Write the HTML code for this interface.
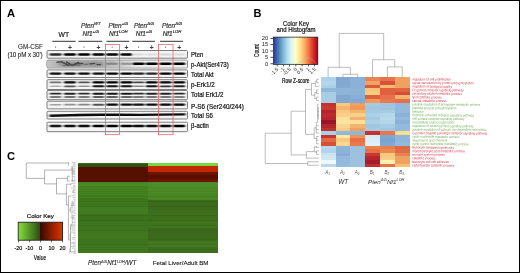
<!DOCTYPE html><html><head><meta charset="utf-8"><style>
html,body{margin:0;padding:0;background:#fff;}body{width:520px;height:273px;overflow:hidden;}
svg{display:block;font-family:"Liberation Sans",sans-serif;will-change:transform;filter:blur(0.35px);}
</style></head><body>
<svg width="520" height="273" viewBox="0 0 520 273">
<defs>
<filter id="bl" x="-20%" y="-100%" width="140%" height="300%"><feGaussianBlur stdDeviation="0.8 0.4"/></filter>
<filter id="bl2" x="-20%" y="-100%" width="140%" height="300%"><feGaussianBlur stdDeviation="1.5 1.0"/></filter>
<linearGradient id="rdylbu" x1="0" x2="1" y1="0" y2="0">
<stop offset="0.000" stop-color="#313695"/>
<stop offset="0.100" stop-color="#4575b4"/>
<stop offset="0.200" stop-color="#74add1"/>
<stop offset="0.300" stop-color="#abd9e9"/>
<stop offset="0.400" stop-color="#e0f3f8"/>
<stop offset="0.500" stop-color="#ffffbf"/>
<stop offset="0.600" stop-color="#fee090"/>
<stop offset="0.700" stop-color="#fdae61"/>
<stop offset="0.800" stop-color="#f46d43"/>
<stop offset="0.900" stop-color="#d73027"/>
<stop offset="1.000" stop-color="#a50026"/>
</linearGradient>
<linearGradient id="gr" x1="0" x2="1" y1="0" y2="0">
<stop offset="0" stop-color="#86e040"/><stop offset="0.5" stop-color="#2a4a10"/><stop offset="0.5" stop-color="#3a0800"/><stop offset="1" stop-color="#e03400"/>
</linearGradient>
<linearGradient id="pakt" x1="0" x2="1" y1="0" y2="0"><stop offset="0" stop-color="#c2c2c2"/><stop offset="0.08" stop-color="#b4b4b4"/><stop offset="0.35" stop-color="#b0b0b0"/><stop offset="0.46" stop-color="#bebebe"/><stop offset="0.54" stop-color="#cdcdcd"/><stop offset="0.6" stop-color="#dedede"/><stop offset="0.66" stop-color="#ebebeb"/><stop offset="1" stop-color="#eeeeee"/></linearGradient>
<filter id="bl3" x="-20%" y="-100%" width="140%" height="300%"><feGaussianBlur stdDeviation="0.7 0.5"/></filter>
</defs>
<rect x="0" y="0" width="520" height="273" fill="#fff"/>
<text x="7" y="16.6" font-size="11.2" font-weight="bold">A</text>
<text x="63.8" y="37.1" font-size="6.8" text-anchor="middle" fill="#222" stroke="#222" stroke-width="0.2">WT</text>
<text x="90.8" y="28.0" font-size="6.4" font-style="italic" text-anchor="middle" fill="#333" stroke="#333" stroke-width="0.2">Pten<tspan font-size="4.2" dy="-2.8">WT</tspan></text>
<text x="90.8" y="35.7" font-size="6.4" font-style="italic" text-anchor="middle" fill="#333" stroke="#333" stroke-width="0.2">Nf1<tspan font-size="4.2" dy="-2.8">+/Δ</tspan></text>
<text x="118.3" y="28.0" font-size="6.4" font-style="italic" text-anchor="middle" fill="#333" stroke="#333" stroke-width="0.2">Pten<tspan font-size="4.2" dy="-2.8">+/Δ</tspan></text>
<text x="118.3" y="35.7" font-size="6.4" font-style="italic" text-anchor="middle" fill="#333" stroke="#333" stroke-width="0.2">Nf1<tspan font-size="4.2" dy="-2.8">LOH</tspan></text>
<text x="144" y="28.0" font-size="6.4" font-style="italic" text-anchor="middle" fill="#333" stroke="#333" stroke-width="0.2">Pten<tspan font-size="4.2" dy="-2.8">Δ/Δ</tspan></text>
<text x="144" y="35.7" font-size="6.4" font-style="italic" text-anchor="middle" fill="#333" stroke="#333" stroke-width="0.2">Nf1<tspan font-size="4.2" dy="-2.8">+/Δ</tspan></text>
<text x="172" y="28.0" font-size="6.4" font-style="italic" text-anchor="middle" fill="#333" stroke="#333" stroke-width="0.2">Pten<tspan font-size="4.2" dy="-2.8">Δ/Δ</tspan></text>
<text x="172" y="35.7" font-size="6.4" font-style="italic" text-anchor="middle" fill="#333" stroke="#333" stroke-width="0.2">Nf1<tspan font-size="4.2" dy="-2.8">LOH</tspan></text>
<rect x="52.3" y="40.8" width="23.4" height="1.0" fill="#333"/>
<rect x="78.5" y="40.8" width="23.8" height="1.0" fill="#333"/>
<rect x="106.5" y="40.8" width="22.7" height="1.0" fill="#333"/>
<rect x="132.3" y="40.8" width="22.7" height="1.0" fill="#333"/>
<rect x="160" y="40.8" width="23.1" height="1.0" fill="#333"/>
<text x="42.9" y="48.9" font-size="6.3" text-anchor="end" fill="#1c1c1c" stroke="#1c1c1c" stroke-width="0.08">GM-CSF</text>
<text x="42.6" y="56.6" font-size="6.3" text-anchor="end" fill="#1c1c1c" stroke="#1c1c1c" stroke-width="0.08" textLength="35.2" lengthAdjust="spacing">(10 pM x 30')</text>
<rect x="55.1" y="46.5" width="1.0" height="1.2" fill="#666"/>
<text x="69.9" y="49.5" font-size="6.8" font-weight="bold" text-anchor="middle" fill="#3a3a3a">+</text>
<rect x="83.5" y="46.5" width="1.0" height="1.2" fill="#666"/>
<text x="98.5" y="49.5" font-size="6.8" font-weight="bold" text-anchor="middle" fill="#3a3a3a">+</text>
<rect x="111.7" y="46.5" width="1.0" height="1.2" fill="#666"/>
<text x="126.4" y="49.5" font-size="6.8" font-weight="bold" text-anchor="middle" fill="#3a3a3a">+</text>
<rect x="138.1" y="46.5" width="1.0" height="1.2" fill="#666"/>
<text x="151.8" y="49.5" font-size="6.8" font-weight="bold" text-anchor="middle" fill="#3a3a3a">+</text>
<rect x="165.1" y="46.5" width="1.0" height="1.2" fill="#666"/>
<text x="179.2" y="49.5" font-size="6.8" font-weight="bold" text-anchor="middle" fill="#3a3a3a">+</text>
<rect x="47.0" y="50.5" width="140.5" height="7.7" rx="1" fill="#f4f4f4" stroke="#6e6e6e" stroke-width="0.9"/>
<g filter="url(#bl)">
<rect x="49.5" y="53.26" width="12.2" height="2.47" rx="1.5" fill="rgb(44,44,44)"/>
<rect x="63.8" y="53.14" width="12.2" height="2.73" rx="1.5" fill="rgb(2,2,2)"/>
<rect x="77.9" y="53.15" width="12.2" height="2.71" rx="1.5" fill="rgb(4,4,4)"/>
<rect x="92.4" y="53.14" width="12.2" height="2.73" rx="1.5" fill="rgb(2,2,2)"/>
<rect x="106.1" y="53.14" width="12.2" height="2.73" rx="1.5" fill="rgb(2,2,2)"/>
<rect x="120.3" y="53.14" width="12.2" height="2.73" rx="1.5" fill="rgb(2,2,2)"/>
<rect x="132.5" y="53.61" width="12.2" height="1.78" rx="1.5" fill="rgb(219,219,219)"/>
<rect x="145.7" y="53.61" width="12.2" height="1.78" rx="1.5" fill="rgb(219,219,219)"/>
<rect x="159.5" y="53.60" width="12.2" height="1.80" rx="1.5" fill="rgb(213,213,213)"/>
<rect x="173.1" y="53.61" width="12.2" height="1.78" rx="1.5" fill="rgb(219,219,219)"/>
</g>
<text x="191" y="56.6" font-size="6.5" fill="#111" textLength="12.3" lengthAdjust="spacingAndGlyphs" stroke="#111" stroke-width="0.2">Pten</text>
<rect x="47.0" y="60.2" width="140.5" height="7.7" rx="1" fill="#f4f4f4" stroke="#6e6e6e" stroke-width="0.9"/>
<rect x="47.4" y="60.6" width="139.7" height="6.9" fill="url(#pakt)"/>
<g filter="url(#bl2)" fill="#777" opacity="0.55"><rect x="58" y="62" width="46" height="4" rx="2"/></g>
<g filter="url(#bl3)" stroke="#2a2a2a" stroke-width="1.6" fill="none" stroke-linecap="round" opacity="0.7">
<polyline points="57,62.3 61.7,61.8 68.5,65.3"/>
<polyline points="66.5,61.9 72,65.4 78.5,62.6"/>
<polyline points="63,65.6 80,65.7" stroke-width="1.0" opacity="0.6"/>
<polyline points="76,63.8 82.5,63.5" stroke-width="1.5"/>
<polyline points="90,63.8 94.8,63.4" stroke-width="1.3"/>
<polyline points="97,64.6 100.5,64.6" stroke-width="1.4"/>
<polyline points="84,64.6 88,64.4" stroke-width="0.9" opacity="0.5"/>
<polyline points="107,63.8 111,63.4 116,63.6" stroke-width="1.1" opacity="0.7"/>
<polyline points="121,64 130,64.2" stroke-width="0.8" opacity="0.35"/>
</g>
<g filter="url(#bl)">
<rect x="106.1" y="62.80" width="12.2" height="2.00" rx="1.5" fill="rgb(134,134,134)"/>
<rect x="120.3" y="62.83" width="12.2" height="1.95" rx="1.5" fill="rgb(147,147,147)"/>
<rect x="132.5" y="62.50" width="12.2" height="2.59" rx="1.5" fill="rgb(4,4,4)"/>
<rect x="145.7" y="62.50" width="12.2" height="2.59" rx="1.5" fill="rgb(4,4,4)"/>
<rect x="159.5" y="62.49" width="12.2" height="2.61" rx="1.5" fill="rgb(2,2,2)"/>
<rect x="173.1" y="62.49" width="12.2" height="2.62" rx="1.5" fill="rgb(1,1,1)"/>
</g>
<text x="191" y="66.7" font-size="6.5" fill="#111" textLength="37.7" lengthAdjust="spacingAndGlyphs" stroke="#111" stroke-width="0.2">p-Akt(Ser473)</text>
<rect x="47.0" y="69.9" width="140.5" height="7.6" rx="1" fill="#f4f4f4" stroke="#6e6e6e" stroke-width="0.9"/>
<g filter="url(#bl)">
<rect x="49.5" y="72.44" width="12.2" height="2.31" rx="1.5" fill="rgb(11,11,11)"/>
<rect x="63.8" y="72.44" width="12.2" height="2.31" rx="1.5" fill="rgb(11,11,11)"/>
<rect x="77.9" y="72.44" width="12.2" height="2.31" rx="1.5" fill="rgb(11,11,11)"/>
<rect x="92.4" y="72.44" width="12.2" height="2.31" rx="1.5" fill="rgb(11,11,11)"/>
<rect x="106.1" y="72.41" width="12.2" height="2.37" rx="1.5" fill="rgb(2,2,2)"/>
<rect x="120.3" y="72.41" width="12.2" height="2.37" rx="1.5" fill="rgb(2,2,2)"/>
<rect x="132.5" y="72.51" width="12.2" height="2.17" rx="1.5" fill="rgb(38,38,38)"/>
<rect x="145.7" y="72.51" width="12.2" height="2.17" rx="1.5" fill="rgb(38,38,38)"/>
<rect x="159.5" y="72.41" width="12.2" height="2.37" rx="1.5" fill="rgb(2,2,2)"/>
<rect x="173.1" y="72.41" width="12.2" height="2.37" rx="1.5" fill="rgb(2,2,2)"/>
</g>
<text x="191" y="76.5" font-size="6.5" fill="#111" textLength="22.8" lengthAdjust="spacingAndGlyphs" stroke="#111" stroke-width="0.2">Total Akt</text>
<rect x="47.0" y="79.7" width="140.5" height="9.8" rx="1" fill="#f4f4f4" stroke="#6e6e6e" stroke-width="0.9"/>
<g filter="url(#bl)">
<rect x="49.5" y="81.50" width="12.2" height="1.81" rx="1.5" fill="rgb(108,108,108)"/>
<rect x="63.8" y="81.29" width="12.2" height="2.21" rx="1.5" fill="rgb(8,8,8)"/>
<rect x="77.9" y="81.45" width="12.2" height="1.90" rx="1.5" fill="rgb(83,83,83)"/>
<rect x="92.4" y="81.26" width="12.2" height="2.28" rx="1.5" fill="rgb(0,0,0)"/>
<rect x="106.1" y="81.26" width="12.2" height="2.28" rx="1.5" fill="rgb(0,0,0)"/>
<rect x="120.3" y="81.27" width="12.2" height="2.25" rx="1.5" fill="rgb(2,2,2)"/>
<rect x="132.5" y="81.43" width="12.2" height="1.94" rx="1.5" fill="rgb(71,71,71)"/>
<rect x="145.7" y="81.27" width="12.2" height="2.25" rx="1.5" fill="rgb(2,2,2)"/>
<rect x="159.5" y="81.29" width="12.2" height="2.21" rx="1.5" fill="rgb(8,8,8)"/>
<rect x="173.1" y="81.27" width="12.2" height="2.25" rx="1.5" fill="rgb(2,2,2)"/>
</g>
<g filter="url(#bl)">
<rect x="49.5" y="85.59" width="12.2" height="1.43" rx="1.5" fill="rgb(175,175,175)"/>
<rect x="63.8" y="85.45" width="12.2" height="1.70" rx="1.5" fill="rgb(83,83,83)"/>
<rect x="77.9" y="85.55" width="12.2" height="1.50" rx="1.5" fill="rgb(147,147,147)"/>
<rect x="92.4" y="85.34" width="12.2" height="1.93" rx="1.5" fill="rgb(19,19,19)"/>
<rect x="106.1" y="85.34" width="12.2" height="1.93" rx="1.5" fill="rgb(19,19,19)"/>
<rect x="120.3" y="85.34" width="12.2" height="1.93" rx="1.5" fill="rgb(19,19,19)"/>
<rect x="132.5" y="85.53" width="12.2" height="1.54" rx="1.5" fill="rgb(134,134,134)"/>
<rect x="145.7" y="85.34" width="12.2" height="1.93" rx="1.5" fill="rgb(19,19,19)"/>
<rect x="159.5" y="85.39" width="12.2" height="1.81" rx="1.5" fill="rgb(49,49,49)"/>
<rect x="173.1" y="85.36" width="12.2" height="1.87" rx="1.5" fill="rgb(32,32,32)"/>
</g>
<text x="191" y="86.7" font-size="6.5" fill="#111" textLength="23.7" lengthAdjust="spacingAndGlyphs" stroke="#111" stroke-width="0.2">p-Erk1/2</text>
<rect x="47.0" y="90.5" width="140.5" height="9.2" rx="1" fill="#f4f4f4" stroke="#6e6e6e" stroke-width="0.9"/>
<g filter="url(#bl)">
<rect x="49.5" y="92.79" width="12.2" height="1.83" rx="1.5" fill="rgb(44,44,44)"/>
<rect x="63.8" y="92.77" width="12.2" height="1.86" rx="1.5" fill="rgb(36,36,36)"/>
<rect x="77.9" y="92.79" width="12.2" height="1.83" rx="1.5" fill="rgb(44,44,44)"/>
<rect x="92.4" y="92.74" width="12.2" height="1.93" rx="1.5" fill="rgb(19,19,19)"/>
<rect x="106.1" y="92.74" width="12.2" height="1.93" rx="1.5" fill="rgb(19,19,19)"/>
<rect x="120.3" y="92.75" width="12.2" height="1.90" rx="1.5" fill="rgb(25,25,25)"/>
<rect x="132.5" y="92.79" width="12.2" height="1.83" rx="1.5" fill="rgb(44,44,44)"/>
<rect x="145.7" y="92.77" width="12.2" height="1.86" rx="1.5" fill="rgb(36,36,36)"/>
<rect x="159.5" y="92.77" width="12.2" height="1.86" rx="1.5" fill="rgb(36,36,36)"/>
<rect x="173.1" y="92.79" width="12.2" height="1.83" rx="1.5" fill="rgb(44,44,44)"/>
</g>
<g filter="url(#bl)">
<rect x="49.5" y="96.25" width="12.2" height="1.50" rx="1.5" fill="rgb(83,83,83)"/>
<rect x="63.8" y="96.23" width="12.2" height="1.53" rx="1.5" fill="rgb(71,71,71)"/>
<rect x="77.9" y="96.25" width="12.2" height="1.50" rx="1.5" fill="rgb(83,83,83)"/>
<rect x="92.4" y="96.19" width="12.2" height="1.61" rx="1.5" fill="rgb(44,44,44)"/>
<rect x="106.1" y="96.19" width="12.2" height="1.61" rx="1.5" fill="rgb(44,44,44)"/>
<rect x="120.3" y="96.21" width="12.2" height="1.58" rx="1.5" fill="rgb(53,53,53)"/>
<rect x="132.5" y="96.25" width="12.2" height="1.50" rx="1.5" fill="rgb(83,83,83)"/>
<rect x="145.7" y="96.24" width="12.2" height="1.52" rx="1.5" fill="rgb(76,76,76)"/>
<rect x="159.5" y="96.24" width="12.2" height="1.52" rx="1.5" fill="rgb(76,76,76)"/>
<rect x="173.1" y="96.26" width="12.2" height="1.48" rx="1.5" fill="rgb(90,90,90)"/>
</g>
<text x="191" y="97.2" font-size="6.5" fill="#111" textLength="32.3" lengthAdjust="spacingAndGlyphs" stroke="#111" stroke-width="0.2">Total Erk1/2</text>
<rect x="47.0" y="101.2" width="140.5" height="7.7" rx="1" fill="#f4f4f4" stroke="#6e6e6e" stroke-width="0.9"/>
<g filter="url(#bl)">
<rect x="49.5" y="103.88" width="12.2" height="1.64" rx="1.5" fill="rgb(161,161,161)"/>
<rect x="63.8" y="103.86" width="12.2" height="1.68" rx="1.5" fill="rgb(147,147,147)"/>
<rect x="77.9" y="103.84" width="12.2" height="1.72" rx="1.5" fill="rgb(134,134,134)"/>
<rect x="92.4" y="103.75" width="12.2" height="1.90" rx="1.5" fill="rgb(83,83,83)"/>
<rect x="106.1" y="103.59" width="12.2" height="2.21" rx="1.5" fill="rgb(8,8,8)"/>
<rect x="120.3" y="103.61" width="12.2" height="2.18" rx="1.5" fill="rgb(14,14,14)"/>
<rect x="132.5" y="103.62" width="12.2" height="2.15" rx="1.5" fill="rgb(19,19,19)"/>
<rect x="145.7" y="103.61" width="12.2" height="2.18" rx="1.5" fill="rgb(14,14,14)"/>
<rect x="159.5" y="103.59" width="12.2" height="2.21" rx="1.5" fill="rgb(8,8,8)"/>
<rect x="173.1" y="103.59" width="12.2" height="2.21" rx="1.5" fill="rgb(8,8,8)"/>
</g>
<text x="191" y="108.6" font-size="6.5" fill="#111" textLength="52.9" lengthAdjust="spacingAndGlyphs" stroke="#111" stroke-width="0.2">P-S6 (Ser240/244)</text>
<rect x="47.0" y="111.3" width="140.5" height="7.7" rx="1" fill="#f4f4f4" stroke="#6e6e6e" stroke-width="0.9"/>
<text x="191" y="117.8" font-size="6.5" fill="#111" textLength="21.9" lengthAdjust="spacingAndGlyphs" stroke="#111" stroke-width="0.2">Total S6</text>
<rect x="47.0" y="122.2" width="140.5" height="9.5" rx="1" fill="#f4f4f4" stroke="#6e6e6e" stroke-width="0.9"/>
<g filter="url(#bl)">
<rect x="49.5" y="124.70" width="12.2" height="2.60" rx="1.5" fill="rgb(19,19,19)"/>
<rect x="63.8" y="124.68" width="12.2" height="2.64" rx="1.5" fill="rgb(14,14,14)"/>
<rect x="77.9" y="124.67" width="12.2" height="2.66" rx="1.5" fill="rgb(11,11,11)"/>
<rect x="92.4" y="124.65" width="12.2" height="2.71" rx="1.5" fill="rgb(4,4,4)"/>
<rect x="106.1" y="124.63" width="12.2" height="2.74" rx="1.5" fill="rgb(1,1,1)"/>
<rect x="120.3" y="124.65" width="12.2" height="2.71" rx="1.5" fill="rgb(4,4,4)"/>
<rect x="132.5" y="124.67" width="12.2" height="2.66" rx="1.5" fill="rgb(11,11,11)"/>
<rect x="145.7" y="124.66" width="12.2" height="2.68" rx="1.5" fill="rgb(8,8,8)"/>
<rect x="159.5" y="124.66" width="12.2" height="2.68" rx="1.5" fill="rgb(8,8,8)"/>
<rect x="173.1" y="124.65" width="12.2" height="2.71" rx="1.5" fill="rgb(4,4,4)"/>
</g>
<text x="191" y="127.7" font-size="6.5" fill="#111" textLength="17.9" lengthAdjust="spacingAndGlyphs" stroke="#111" stroke-width="0.2">β-actin</text>
<g filter="url(#bl)"><polygon points="49.5,114.6 60,114.2 80,113.7 100,113.5 120,113.6 140,113.7 160,113.5 185.5,113.3 185.5,115.6 160,115.8 140,116 120,115.9 100,115.9 80,116.2 60,116.7 49.5,116.9" fill="#111"/></g>
<rect x="105.4" y="44.6" width="14.2" height="90.1" fill="none" stroke="#e06060" stroke-width="0.75"/>
<rect x="158.4" y="44.6" width="14.6" height="90.1" fill="none" stroke="#e06060" stroke-width="0.75"/>
<text x="253.6" y="16.6" font-size="11" font-weight="bold">B</text>
<text x="296" y="25.6" font-size="6.6" text-anchor="middle" fill="#111" textLength="26" lengthAdjust="spacingAndGlyphs" stroke="#111" stroke-width="0.2">Color Key</text>
<text x="296.1" y="32.1" font-size="6.6" text-anchor="middle" fill="#111" textLength="39" lengthAdjust="spacingAndGlyphs" stroke="#111" stroke-width="0.2">and Histogram</text>
<rect x="273.6" y="37.1" width="44.2" height="27.5" fill="url(#rdylbu)" stroke="#111" stroke-width="0.7"/>
<polyline points="274,64 296,63.8 299,63 302,61 304,59 306,58 308,58.5 310,57.5 312,60 314,61 316,63.5" fill="none" stroke="#7fd6e0" stroke-width="0.45" opacity="0.8"/>
<text x="268.2" y="40.4" font-size="5.8" text-anchor="end" fill="#1a1a1a">20</text>
<rect x="270.4" y="38.05" width="3.0" height="0.7" fill="#111"/>
<text x="268.2" y="46.4" font-size="5.8" text-anchor="end" fill="#1a1a1a">15</text>
<rect x="270.4" y="44.05" width="3.0" height="0.7" fill="#111"/>
<text x="268.2" y="53.0" font-size="5.8" text-anchor="end" fill="#1a1a1a">10</text>
<rect x="270.4" y="50.65" width="3.0" height="0.7" fill="#111"/>
<text x="268.2" y="59.2" font-size="5.8" text-anchor="end" fill="#1a1a1a">5</text>
<rect x="270.4" y="56.85" width="3.0" height="0.7" fill="#111"/>
<text x="268.2" y="65.8" font-size="5.8" text-anchor="end" fill="#1a1a1a">0</text>
<rect x="270.4" y="63.45" width="3.0" height="0.7" fill="#111"/>
<text transform="translate(259.2,50.6) rotate(-90)" font-size="6.9" text-anchor="middle" fill="#111" textLength="12.9" lengthAdjust="spacingAndGlyphs" stroke="#111" stroke-width="0.2">Count</text>
<rect x="276.75" y="64.6" width="0.7" height="1.8" fill="#111"/>
<text transform="translate(278.60,69.6) rotate(-45)" font-size="5.0" text-anchor="end" fill="#1a1a1a">-1.5</text>
<rect x="283.00" y="64.6" width="0.7" height="1.8" fill="#111"/>
<text transform="translate(284.85,69.6) rotate(-45)" font-size="5.0" text-anchor="end" fill="#1a1a1a">-1</text>
<rect x="289.25" y="64.6" width="0.7" height="1.8" fill="#111"/>
<text transform="translate(291.10,69.6) rotate(-45)" font-size="5.0" text-anchor="end" fill="#1a1a1a">-0.5</text>
<rect x="295.50" y="64.6" width="0.7" height="1.8" fill="#111"/>
<text transform="translate(297.35,69.6) rotate(-45)" font-size="5.0" text-anchor="end" fill="#1a1a1a">0</text>
<rect x="301.75" y="64.6" width="0.7" height="1.8" fill="#111"/>
<text transform="translate(303.60,69.6) rotate(-45)" font-size="5.0" text-anchor="end" fill="#1a1a1a">0.5</text>
<rect x="308.00" y="64.6" width="0.7" height="1.8" fill="#111"/>
<text transform="translate(309.85,69.6) rotate(-45)" font-size="5.0" text-anchor="end" fill="#1a1a1a">1</text>
<rect x="314.25" y="64.6" width="0.7" height="1.8" fill="#111"/>
<text transform="translate(316.10,69.6) rotate(-45)" font-size="5.0" text-anchor="end" fill="#1a1a1a">1.5</text>
<text x="295.8" y="82.9" font-size="7.4" text-anchor="middle" fill="#000" textLength="27.5" lengthAdjust="spacingAndGlyphs" stroke="#000" stroke-width="0.2">Row Z-score</text>
<g shape-rendering="crispEdges">
<rect x="320.70" y="77.40" width="15.12" height="3.89" fill="#b0d2e8"/>
<rect x="335.52" y="77.40" width="15.12" height="3.89" fill="#82a8d2"/>
<rect x="350.33" y="77.40" width="15.12" height="3.89" fill="#8ab2d8"/>
<rect x="365.15" y="77.40" width="15.12" height="3.89" fill="#e9834f"/>
<rect x="379.97" y="77.40" width="15.12" height="3.89" fill="#e5744a"/>
<rect x="394.78" y="77.40" width="15.12" height="3.89" fill="#f0a060"/>
<rect x="320.70" y="80.99" width="15.12" height="3.89" fill="#b4d6ea"/>
<rect x="335.52" y="80.99" width="15.12" height="3.89" fill="#82a8d2"/>
<rect x="350.33" y="80.99" width="15.12" height="3.89" fill="#8ab2d8"/>
<rect x="365.15" y="80.99" width="15.12" height="3.89" fill="#f3a160"/>
<rect x="379.97" y="80.99" width="15.12" height="3.89" fill="#d8503a"/>
<rect x="394.78" y="80.99" width="15.12" height="3.89" fill="#f0a060"/>
<rect x="320.70" y="84.58" width="15.12" height="3.89" fill="#acd0e6"/>
<rect x="335.52" y="84.58" width="15.12" height="3.89" fill="#84aad2"/>
<rect x="350.33" y="84.58" width="15.12" height="3.89" fill="#8ab2d8"/>
<rect x="365.15" y="84.58" width="15.12" height="3.89" fill="#dc5a3c"/>
<rect x="379.97" y="84.58" width="15.12" height="3.89" fill="#f5b96f"/>
<rect x="394.78" y="84.58" width="15.12" height="3.89" fill="#f0a060"/>
<rect x="320.70" y="88.16" width="15.12" height="3.89" fill="#92b8da"/>
<rect x="335.52" y="88.16" width="15.12" height="3.89" fill="#8db4d9"/>
<rect x="350.33" y="88.16" width="15.12" height="3.89" fill="#8cb4d8"/>
<rect x="365.15" y="88.16" width="15.12" height="3.89" fill="#f8c57a"/>
<rect x="379.97" y="88.16" width="15.12" height="3.89" fill="#e0603e"/>
<rect x="394.78" y="88.16" width="15.12" height="3.89" fill="#e0643f"/>
<rect x="320.70" y="91.75" width="15.12" height="3.89" fill="#a8cee6"/>
<rect x="335.52" y="91.75" width="15.12" height="3.89" fill="#8db4d9"/>
<rect x="350.33" y="91.75" width="15.12" height="3.89" fill="#8cb4d8"/>
<rect x="365.15" y="91.75" width="15.12" height="3.89" fill="#f9cd7f"/>
<rect x="379.97" y="91.75" width="15.12" height="3.89" fill="#e0603e"/>
<rect x="394.78" y="91.75" width="15.12" height="3.89" fill="#d84b35"/>
<rect x="320.70" y="95.34" width="15.12" height="3.89" fill="#a8cee6"/>
<rect x="335.52" y="95.34" width="15.12" height="3.89" fill="#82a8d2"/>
<rect x="350.33" y="95.34" width="15.12" height="3.89" fill="#86aed6"/>
<rect x="365.15" y="95.34" width="15.12" height="3.89" fill="#e05d3d"/>
<rect x="379.97" y="95.34" width="15.12" height="3.89" fill="#e67048"/>
<rect x="394.78" y="95.34" width="15.12" height="3.89" fill="#f5b46c"/>
<rect x="320.70" y="98.93" width="15.12" height="3.89" fill="#a8cee6"/>
<rect x="335.52" y="98.93" width="15.12" height="3.89" fill="#82a8d2"/>
<rect x="350.33" y="98.93" width="15.12" height="3.89" fill="#82aad4"/>
<rect x="365.15" y="98.93" width="15.12" height="3.89" fill="#f09a5a"/>
<rect x="379.97" y="98.93" width="15.12" height="3.89" fill="#e77a4d"/>
<rect x="394.78" y="98.93" width="15.12" height="3.89" fill="#e67048"/>
<rect x="320.70" y="102.52" width="15.12" height="3.89" fill="#c0322e"/>
<rect x="335.52" y="102.52" width="15.12" height="3.89" fill="#f8c880"/>
<rect x="350.33" y="102.52" width="15.12" height="3.89" fill="#f0a060"/>
<rect x="365.15" y="102.52" width="15.12" height="3.89" fill="#a6cae3"/>
<rect x="379.97" y="102.52" width="15.12" height="3.89" fill="#9fc5e1"/>
<rect x="394.78" y="102.52" width="15.12" height="3.89" fill="#93badc"/>
<rect x="320.70" y="106.10" width="15.12" height="3.89" fill="#c83a30"/>
<rect x="335.52" y="106.10" width="15.12" height="3.89" fill="#f5b46c"/>
<rect x="350.33" y="106.10" width="15.12" height="3.89" fill="#f09858"/>
<rect x="365.15" y="106.10" width="15.12" height="3.89" fill="#a0c6e2"/>
<rect x="379.97" y="106.10" width="15.12" height="3.89" fill="#9fc5e1"/>
<rect x="394.78" y="106.10" width="15.12" height="3.89" fill="#93badc"/>
<rect x="320.70" y="109.69" width="15.12" height="3.89" fill="#b52230"/>
<rect x="335.52" y="109.69" width="15.12" height="3.89" fill="#f8c880"/>
<rect x="350.33" y="109.69" width="15.12" height="3.89" fill="#f5b46c"/>
<rect x="365.15" y="109.69" width="15.12" height="3.89" fill="#a6cae3"/>
<rect x="379.97" y="109.69" width="15.12" height="3.89" fill="#a8cce4"/>
<rect x="394.78" y="109.69" width="15.12" height="3.89" fill="#93badc"/>
<rect x="320.70" y="113.28" width="15.12" height="3.89" fill="#c02a2e"/>
<rect x="335.52" y="113.28" width="15.12" height="3.89" fill="#f8d088"/>
<rect x="350.33" y="113.28" width="15.12" height="3.89" fill="#f8d088"/>
<rect x="365.15" y="113.28" width="15.12" height="3.89" fill="#acd0e6"/>
<rect x="379.97" y="113.28" width="15.12" height="3.89" fill="#b4d6ea"/>
<rect x="394.78" y="113.28" width="15.12" height="3.89" fill="#8ab2d8"/>
<rect x="320.70" y="116.87" width="15.12" height="3.89" fill="#b82530"/>
<rect x="335.52" y="116.87" width="15.12" height="3.89" fill="#fbe09a"/>
<rect x="350.33" y="116.87" width="15.12" height="3.89" fill="#f5b070"/>
<rect x="365.15" y="116.87" width="15.12" height="3.89" fill="#a6cae3"/>
<rect x="379.97" y="116.87" width="15.12" height="3.89" fill="#b8d8ec"/>
<rect x="394.78" y="116.87" width="15.12" height="3.89" fill="#93badc"/>
<rect x="320.70" y="120.46" width="15.12" height="3.89" fill="#9a1428"/>
<rect x="335.52" y="120.46" width="15.12" height="3.89" fill="#fbe3a0"/>
<rect x="350.33" y="120.46" width="15.12" height="3.89" fill="#fbe09a"/>
<rect x="365.15" y="120.46" width="15.12" height="3.89" fill="#acd0e6"/>
<rect x="379.97" y="120.46" width="15.12" height="3.89" fill="#b4d6ea"/>
<rect x="394.78" y="120.46" width="15.12" height="3.89" fill="#8ab2d8"/>
<rect x="320.70" y="124.04" width="15.12" height="3.89" fill="#b52530"/>
<rect x="335.52" y="124.04" width="15.12" height="3.89" fill="#f8d590"/>
<rect x="350.33" y="124.04" width="15.12" height="3.89" fill="#f5b46c"/>
<rect x="365.15" y="124.04" width="15.12" height="3.89" fill="#a0c6e2"/>
<rect x="379.97" y="124.04" width="15.12" height="3.89" fill="#a8cce4"/>
<rect x="394.78" y="124.04" width="15.12" height="3.89" fill="#93badc"/>
<rect x="320.70" y="127.63" width="15.12" height="3.89" fill="#c0302e"/>
<rect x="335.52" y="127.63" width="15.12" height="3.89" fill="#f8cb85"/>
<rect x="350.33" y="127.63" width="15.12" height="3.89" fill="#f0a060"/>
<rect x="365.15" y="127.63" width="15.12" height="3.89" fill="#a6cae3"/>
<rect x="379.97" y="127.63" width="15.12" height="3.89" fill="#9fc5e1"/>
<rect x="394.78" y="127.63" width="15.12" height="3.89" fill="#93badc"/>
<rect x="320.70" y="131.22" width="15.12" height="3.89" fill="#a8d0e8"/>
<rect x="335.52" y="131.22" width="15.12" height="3.89" fill="#90b8d8"/>
<rect x="350.33" y="131.22" width="15.12" height="3.89" fill="#90b8d8"/>
<rect x="365.15" y="131.22" width="15.12" height="3.89" fill="#c8302c"/>
<rect x="379.97" y="131.22" width="15.12" height="3.89" fill="#e8784a"/>
<rect x="394.78" y="131.22" width="15.12" height="3.89" fill="#fde08e"/>
<rect x="320.70" y="134.81" width="15.12" height="3.89" fill="#c83530"/>
<rect x="335.52" y="134.81" width="15.12" height="3.89" fill="#fde9a0"/>
<rect x="350.33" y="134.81" width="15.12" height="3.89" fill="#f0925a"/>
<rect x="365.15" y="134.81" width="15.12" height="3.89" fill="#d8ecf4"/>
<rect x="379.97" y="134.81" width="15.12" height="3.89" fill="#7ea6d0"/>
<rect x="394.78" y="134.81" width="15.12" height="3.89" fill="#8fb6da"/>
<rect x="320.70" y="138.40" width="15.12" height="3.89" fill="#e06a45"/>
<rect x="335.52" y="138.40" width="15.12" height="3.89" fill="#f8c880"/>
<rect x="350.33" y="138.40" width="15.12" height="3.89" fill="#e87048"/>
<rect x="365.15" y="138.40" width="15.12" height="3.89" fill="#dcedf5"/>
<rect x="379.97" y="138.40" width="15.12" height="3.89" fill="#7aa4d0"/>
<rect x="394.78" y="138.40" width="15.12" height="3.89" fill="#8fb6da"/>
<rect x="320.70" y="141.98" width="15.12" height="3.89" fill="#d85038"/>
<rect x="335.52" y="141.98" width="15.12" height="3.89" fill="#fbd890"/>
<rect x="350.33" y="141.98" width="15.12" height="3.89" fill="#e87a4d"/>
<rect x="365.15" y="141.98" width="15.12" height="3.89" fill="#e0f0f6"/>
<rect x="379.97" y="141.98" width="15.12" height="3.89" fill="#80a8d2"/>
<rect x="394.78" y="141.98" width="15.12" height="3.89" fill="#93b9dc"/>
<rect x="320.70" y="145.57" width="15.12" height="3.89" fill="#b8d8ec"/>
<rect x="335.52" y="145.57" width="15.12" height="3.89" fill="#8fb4d8"/>
<rect x="350.33" y="145.57" width="15.12" height="3.89" fill="#9cc2e0"/>
<rect x="365.15" y="145.57" width="15.12" height="3.89" fill="#e88450"/>
<rect x="379.97" y="145.57" width="15.12" height="3.89" fill="#e8804c"/>
<rect x="394.78" y="145.57" width="15.12" height="3.89" fill="#e06840"/>
<rect x="320.70" y="149.16" width="15.12" height="3.89" fill="#b0d4ea"/>
<rect x="335.52" y="149.16" width="15.12" height="3.89" fill="#8db3d8"/>
<rect x="350.33" y="149.16" width="15.12" height="3.89" fill="#9cc2e0"/>
<rect x="365.15" y="149.16" width="15.12" height="3.89" fill="#e67048"/>
<rect x="379.97" y="149.16" width="15.12" height="3.89" fill="#ea8a50"/>
<rect x="394.78" y="149.16" width="15.12" height="3.89" fill="#e06c44"/>
<rect x="320.70" y="152.75" width="15.12" height="3.89" fill="#c8e4f0"/>
<rect x="335.52" y="152.75" width="15.12" height="3.89" fill="#88aed5"/>
<rect x="350.33" y="152.75" width="15.12" height="3.89" fill="#9cc2e0"/>
<rect x="365.15" y="152.75" width="15.12" height="3.89" fill="#c83a30"/>
<rect x="379.97" y="152.75" width="15.12" height="3.89" fill="#f8c880"/>
<rect x="394.78" y="152.75" width="15.12" height="3.89" fill="#e88450"/>
<rect x="320.70" y="156.34" width="15.12" height="3.89" fill="#d0e8f2"/>
<rect x="335.52" y="156.34" width="15.12" height="3.89" fill="#93b9dc"/>
<rect x="350.33" y="156.34" width="15.12" height="3.89" fill="#9cc2e0"/>
<rect x="365.15" y="156.34" width="15.12" height="3.89" fill="#b82530"/>
<rect x="379.97" y="156.34" width="15.12" height="3.89" fill="#f8cc84"/>
<rect x="394.78" y="156.34" width="15.12" height="3.89" fill="#f0a060"/>
<rect x="320.70" y="159.92" width="15.12" height="3.89" fill="#eef8fb"/>
<rect x="335.52" y="159.92" width="15.12" height="3.89" fill="#93b9dc"/>
<rect x="350.33" y="159.92" width="15.12" height="3.89" fill="#9cc2e0"/>
<rect x="365.15" y="159.92" width="15.12" height="3.89" fill="#a81c2c"/>
<rect x="379.97" y="159.92" width="15.12" height="3.89" fill="#fef0b0"/>
<rect x="394.78" y="159.92" width="15.12" height="3.89" fill="#f0a060"/>
<rect x="320.70" y="163.51" width="15.12" height="3.89" fill="#b8d8ec"/>
<rect x="335.52" y="163.51" width="15.12" height="3.89" fill="#96bbdc"/>
<rect x="350.33" y="163.51" width="15.12" height="3.89" fill="#9cc2e0"/>
<rect x="365.15" y="163.51" width="15.12" height="3.89" fill="#c0302e"/>
<rect x="379.97" y="163.51" width="15.12" height="3.89" fill="#e87048"/>
<rect x="394.78" y="163.51" width="15.12" height="3.89" fill="#f5c070"/>
</g>
<text transform="translate(412.2 80.39) rotate(0.2) scale(1 1.15)" font-size="3.05" fill="#cf3748">regulation of cell proliferation</text>
<text transform="translate(412.2 83.98) rotate(0.2) scale(1 1.15)" font-size="3.05" fill="#cf3748">signal transduction by protein phosphorylation</text>
<text transform="translate(412.2 87.57) rotate(0.2) scale(1 1.15)" font-size="3.05" fill="#cf3748">regulation of biological quality</text>
<text transform="translate(412.2 91.16) rotate(0.2) scale(1 1.15)" font-size="3.05" fill="#cf3748">Fc gamma receptor signaling pathway</text>
<text transform="translate(412.2 94.75) rotate(0.2) scale(1 1.15)" font-size="3.05" fill="#cf3748">secondary alcohol metabolic process</text>
<text transform="translate(412.2 98.33) rotate(0.2) scale(1 1.15)" font-size="3.05" fill="#cf3748">lipid catabolic process</text>
<text transform="translate(412.2 101.92) rotate(0.2) scale(1 1.15)" font-size="3.05" fill="#cf3748">steroid metabolic process</text>
<text transform="translate(412.2 105.51) rotate(0.2) scale(1 1.15)" font-size="3.05" fill="#72ac58">positive regulation of phosphate metabolic process</text>
<text transform="translate(412.2 109.10) rotate(0.2) scale(1 1.15)" font-size="3.05" fill="#72ac58">peptidyl-tyrosine phosphorylation</text>
<text transform="translate(412.2 112.69) rotate(0.2) scale(1 1.15)" font-size="3.05" fill="#72ac58">behavior</text>
<text transform="translate(412.2 116.27) rotate(0.2) scale(1 1.15)" font-size="3.05" fill="#72ac58">thrombin-activated receptor signaling pathway</text>
<text transform="translate(412.2 119.86) rotate(0.2) scale(1 1.15)" font-size="3.05" fill="#72ac58">cell surface receptor signaling pathway</text>
<text transform="translate(412.2 123.45) rotate(0.2) scale(1 1.15)" font-size="3.05" fill="#72ac58">extracellular matrix organization</text>
<text transform="translate(412.2 127.04) rotate(0.2) scale(1 1.15)" font-size="3.05" fill="#72ac58">regulation of canonical Wnt signaling pathway</text>
<text transform="translate(412.2 130.63) rotate(0.2) scale(1 1.15)" font-size="3.05" fill="#72ac58">positive regulation of calcium ion-dependent exocytosis</text>
<text transform="translate(412.2 134.21) rotate(0.2) scale(1 1.15)" font-size="3.05" fill="#cf3748">G-protein coupled purinergic receptor signaling pathway</text>
<text transform="translate(412.2 137.80) rotate(0.2) scale(1 1.15)" font-size="3.05" fill="#72ac58">cyclic nucleotide metabolic process</text>
<text transform="translate(412.2 141.39) rotate(0.2) scale(1 1.15)" font-size="3.05" fill="#72ac58">response to acid chemical</text>
<text transform="translate(412.2 144.98) rotate(0.2) scale(1 1.15)" font-size="3.05" fill="#72ac58">cyclic purine nucleotide metabolic process</text>
<text transform="translate(412.2 148.57) rotate(0.2) scale(1 1.15)" font-size="3.05" fill="#cf3748">leukocyte mediated cytotoxicity</text>
<text transform="translate(412.2 152.15) rotate(0.2) scale(1 1.15)" font-size="3.05" fill="#cf3748">monocarboxylic acid metabolic process</text>
<text transform="translate(412.2 155.74) rotate(0.2) scale(1 1.15)" font-size="3.05" fill="#cf3748">immune system process</text>
<text transform="translate(412.2 159.33) rotate(0.2) scale(1 1.15)" font-size="3.05" fill="#cf3748">catabolic process</text>
<text transform="translate(412.2 162.92) rotate(0.2) scale(1 1.15)" font-size="3.05" fill="#cf3748">leukocyte cell-cell adhesion</text>
<text transform="translate(412.2 166.51) rotate(0.2) scale(1 1.15)" font-size="3.05" fill="#cf3748">carbohydrate catabolic process</text>
<line x1="342.93" y1="77.40" x2="342.93" y2="74.30" stroke="#7a7a7a" stroke-width="0.5"/>
<line x1="357.74" y1="77.40" x2="357.74" y2="74.30" stroke="#7a7a7a" stroke-width="0.5"/>
<line x1="342.93" y1="74.30" x2="357.74" y2="74.30" stroke="#7a7a7a" stroke-width="0.5"/>
<line x1="350.33" y1="74.30" x2="350.33" y2="67.30" stroke="#7a7a7a" stroke-width="0.5"/>
<line x1="328.11" y1="77.40" x2="328.11" y2="67.30" stroke="#7a7a7a" stroke-width="0.5"/>
<line x1="328.11" y1="67.30" x2="350.33" y2="67.30" stroke="#7a7a7a" stroke-width="0.5"/>
<line x1="387.38" y1="77.40" x2="387.38" y2="66.90" stroke="#7a7a7a" stroke-width="0.5"/>
<line x1="402.19" y1="77.40" x2="402.19" y2="66.90" stroke="#7a7a7a" stroke-width="0.5"/>
<line x1="387.38" y1="66.90" x2="402.19" y2="66.90" stroke="#7a7a7a" stroke-width="0.5"/>
<line x1="394.78" y1="66.90" x2="394.78" y2="59.70" stroke="#7a7a7a" stroke-width="0.5"/>
<line x1="372.56" y1="77.40" x2="372.56" y2="59.70" stroke="#7a7a7a" stroke-width="0.5"/>
<line x1="372.56" y1="59.70" x2="394.78" y2="59.70" stroke="#7a7a7a" stroke-width="0.5"/>
<line x1="339.22" y1="67.30" x2="339.22" y2="33.40" stroke="#7a7a7a" stroke-width="0.5"/>
<line x1="383.67" y1="59.70" x2="383.67" y2="33.40" stroke="#7a7a7a" stroke-width="0.5"/>
<line x1="339.22" y1="33.40" x2="383.67" y2="33.40" stroke="#7a7a7a" stroke-width="0.5"/>
<line x1="311.50" y1="83.50" x2="311.50" y2="95.20" stroke="#7a7a7a" stroke-width="0.5"/>
<line x1="305.50" y1="89.40" x2="311.50" y2="89.40" stroke="#7a7a7a" stroke-width="0.5"/>
<line x1="311.50" y1="83.50" x2="315.30" y2="83.50" stroke="#7a7a7a" stroke-width="0.5"/>
<line x1="315.30" y1="81.20" x2="315.30" y2="86.40" stroke="#7a7a7a" stroke-width="0.5"/>
<line x1="315.30" y1="81.20" x2="316.80" y2="81.20" stroke="#7a7a7a" stroke-width="0.5"/>
<line x1="316.80" y1="79.19" x2="316.80" y2="82.78" stroke="#7a7a7a" stroke-width="0.5"/>
<line x1="316.80" y1="79.19" x2="318.80" y2="79.19" stroke="#7a7a7a" stroke-width="0.5"/>
<line x1="316.80" y1="82.78" x2="318.80" y2="82.78" stroke="#7a7a7a" stroke-width="0.5"/>
<line x1="315.30" y1="86.37" x2="318.80" y2="86.37" stroke="#7a7a7a" stroke-width="0.5"/>
<line x1="311.50" y1="95.20" x2="314.80" y2="95.20" stroke="#7a7a7a" stroke-width="0.5"/>
<line x1="314.80" y1="92.50" x2="314.80" y2="98.60" stroke="#7a7a7a" stroke-width="0.5"/>
<line x1="314.80" y1="92.50" x2="316.60" y2="92.50" stroke="#7a7a7a" stroke-width="0.5"/>
<line x1="316.60" y1="89.96" x2="316.60" y2="93.55" stroke="#7a7a7a" stroke-width="0.5"/>
<line x1="316.60" y1="89.96" x2="318.80" y2="89.96" stroke="#7a7a7a" stroke-width="0.5"/>
<line x1="316.60" y1="93.55" x2="318.80" y2="93.55" stroke="#7a7a7a" stroke-width="0.5"/>
<line x1="314.80" y1="98.60" x2="316.60" y2="98.60" stroke="#7a7a7a" stroke-width="0.5"/>
<line x1="316.60" y1="97.13" x2="316.60" y2="100.72" stroke="#7a7a7a" stroke-width="0.5"/>
<line x1="316.60" y1="97.13" x2="318.80" y2="97.13" stroke="#7a7a7a" stroke-width="0.5"/>
<line x1="316.60" y1="100.72" x2="318.80" y2="100.72" stroke="#7a7a7a" stroke-width="0.5"/>
<line x1="305.50" y1="89.40" x2="305.50" y2="134.40" stroke="#7a7a7a" stroke-width="0.5"/>
<line x1="291.10" y1="111.20" x2="305.50" y2="111.20" stroke="#7a7a7a" stroke-width="0.5"/>
<line x1="305.50" y1="134.40" x2="314.20" y2="134.40" stroke="#7a7a7a" stroke-width="0.5"/>
<line x1="314.20" y1="127.80" x2="314.20" y2="138.40" stroke="#7a7a7a" stroke-width="0.5"/>
<line x1="314.20" y1="127.80" x2="316.20" y2="127.80" stroke="#7a7a7a" stroke-width="0.5"/>
<line x1="316.20" y1="122.25" x2="316.20" y2="133.01" stroke="#7a7a7a" stroke-width="0.5"/>
<line x1="316.20" y1="122.25" x2="317.60" y2="122.25" stroke="#7a7a7a" stroke-width="0.5"/>
<line x1="317.60" y1="104.31" x2="317.60" y2="122.25" stroke="#7a7a7a" stroke-width="0.5"/>
<line x1="317.60" y1="104.31" x2="318.80" y2="104.31" stroke="#7a7a7a" stroke-width="0.5"/>
<line x1="317.60" y1="107.90" x2="318.80" y2="107.90" stroke="#7a7a7a" stroke-width="0.5"/>
<line x1="317.60" y1="111.49" x2="318.80" y2="111.49" stroke="#7a7a7a" stroke-width="0.5"/>
<line x1="317.60" y1="115.07" x2="318.80" y2="115.07" stroke="#7a7a7a" stroke-width="0.5"/>
<line x1="317.60" y1="118.66" x2="318.80" y2="118.66" stroke="#7a7a7a" stroke-width="0.5"/>
<line x1="316.20" y1="125.84" x2="318.80" y2="125.84" stroke="#7a7a7a" stroke-width="0.5"/>
<line x1="316.20" y1="129.43" x2="318.80" y2="129.43" stroke="#7a7a7a" stroke-width="0.5"/>
<line x1="316.20" y1="133.01" x2="318.80" y2="133.01" stroke="#7a7a7a" stroke-width="0.5"/>
<line x1="318.20" y1="107.90" x2="318.20" y2="118.66" stroke="#7a7a7a" stroke-width="0.5"/>
<line x1="314.20" y1="138.40" x2="316.60" y2="138.40" stroke="#7a7a7a" stroke-width="0.5"/>
<line x1="316.60" y1="136.60" x2="316.60" y2="143.78" stroke="#7a7a7a" stroke-width="0.5"/>
<line x1="316.60" y1="136.60" x2="318.80" y2="136.60" stroke="#7a7a7a" stroke-width="0.5"/>
<line x1="316.60" y1="140.19" x2="318.80" y2="140.19" stroke="#7a7a7a" stroke-width="0.5"/>
<line x1="316.60" y1="143.78" x2="318.80" y2="143.78" stroke="#7a7a7a" stroke-width="0.5"/>
<line x1="291.10" y1="111.20" x2="291.10" y2="154.90" stroke="#7a7a7a" stroke-width="0.5"/>
<line x1="291.10" y1="154.90" x2="306.40" y2="154.90" stroke="#7a7a7a" stroke-width="0.5"/>
<line x1="306.40" y1="151.60" x2="306.40" y2="158.13" stroke="#7a7a7a" stroke-width="0.5"/>
<line x1="306.40" y1="158.13" x2="318.80" y2="158.13" stroke="#7a7a7a" stroke-width="0.5"/>
<line x1="306.40" y1="151.60" x2="314.30" y2="151.60" stroke="#7a7a7a" stroke-width="0.5"/>
<line x1="314.30" y1="146.87" x2="314.30" y2="151.95" stroke="#7a7a7a" stroke-width="0.5"/>
<line x1="314.30" y1="146.87" x2="316.50" y2="146.87" stroke="#7a7a7a" stroke-width="0.5"/>
<line x1="316.50" y1="146.17" x2="316.50" y2="147.87" stroke="#7a7a7a" stroke-width="0.5"/>
<line x1="316.50" y1="147.37" x2="318.80" y2="147.37" stroke="#7a7a7a" stroke-width="0.5"/>
<line x1="314.30" y1="151.95" x2="316.50" y2="151.95" stroke="#7a7a7a" stroke-width="0.5"/>
<line x1="316.50" y1="150.95" x2="316.50" y2="154.54" stroke="#7a7a7a" stroke-width="0.5"/>
<line x1="316.50" y1="150.95" x2="318.80" y2="150.95" stroke="#7a7a7a" stroke-width="0.5"/>
<line x1="316.50" y1="154.54" x2="318.80" y2="154.54" stroke="#7a7a7a" stroke-width="0.5"/>
<line x1="265.20" y1="133.20" x2="291.10" y2="133.20" stroke="#7a7a7a" stroke-width="0.5"/>
<line x1="307.70" y1="161.72" x2="307.70" y2="165.31" stroke="#7a7a7a" stroke-width="0.5"/>
<line x1="307.70" y1="161.72" x2="318.80" y2="161.72" stroke="#7a7a7a" stroke-width="0.5"/>
<line x1="307.70" y1="165.31" x2="318.80" y2="165.31" stroke="#7a7a7a" stroke-width="0.5"/>
<line x1="265.20" y1="163.50" x2="307.70" y2="163.50" stroke="#7a7a7a" stroke-width="0.5"/>
<line x1="265.20" y1="133.20" x2="265.20" y2="163.50" stroke="#7a7a7a" stroke-width="0.5"/>
<text x="327.5" y="174.2" font-size="4.5" font-style="italic" text-anchor="middle" fill="#555">A<tspan font-size="3" dy="1">1</tspan></text>
<text x="342.3" y="174.2" font-size="4.5" font-style="italic" text-anchor="middle" fill="#555">A<tspan font-size="3" dy="1">2</tspan></text>
<text x="357.1" y="174.2" font-size="4.5" font-style="italic" text-anchor="middle" fill="#555">A<tspan font-size="3" dy="1">3</tspan></text>
<text x="372.0" y="174.2" font-size="4.5" font-style="italic" text-anchor="middle" fill="#555">B<tspan font-size="3" dy="1">1</tspan></text>
<text x="386.8" y="174.2" font-size="4.5" font-style="italic" text-anchor="middle" fill="#555">B<tspan font-size="3" dy="1">2</tspan></text>
<text x="401.6" y="174.2" font-size="4.5" font-style="italic" text-anchor="middle" fill="#555">B<tspan font-size="3" dy="1">3</tspan></text>
<text x="343.3" y="183.8" font-size="6.4" font-style="italic" text-anchor="middle" fill="#2a2a2a">WT</text>
<text x="368" y="183.8" font-size="6.2" font-style="italic" fill="#2a2a2a">Pten<tspan font-size="3.8" dy="-2.4">Δ/Δ</tspan><tspan dy="2.4">Nf1</tspan><tspan font-size="3.8" dy="-2.4">LOH</tspan></text>
<text x="7" y="159.8" font-size="11.2" font-weight="bold">C</text>
<g shape-rendering="crispEdges">
<rect x="77.9" y="162.60" width="70.10" height="1.70" fill="#3a6e1a"/>
<rect x="77.9" y="164.30" width="70.10" height="2.30" fill="#2c5410"/>
<rect x="77.9" y="166.60" width="70.10" height="15.20" fill="#561000"/>
<rect x="148.0" y="162.60" width="69.90" height="3.40" fill="#78d840"/>
<rect x="148.0" y="166.00" width="69.90" height="5.50" fill="#c42800"/>
<rect x="148.0" y="171.50" width="69.90" height="3.50" fill="#6a1400"/>
<rect x="148.0" y="175.00" width="69.90" height="3.50" fill="#580e00"/>
<rect x="148.0" y="178.50" width="69.90" height="3.30" fill="#6a1400"/>
<rect x="77.9" y="181.80" width="70.10" height="4.20" fill="#4a8a26"/>
<rect x="77.9" y="186.00" width="70.10" height="6.00" fill="#45821f"/>
<rect x="77.9" y="192.00" width="70.10" height="6.00" fill="#42801f"/>
<rect x="77.9" y="198.00" width="70.10" height="8.00" fill="#3d761d"/>
<rect x="77.9" y="206.00" width="70.10" height="8.00" fill="#417a1f"/>
<rect x="77.9" y="214.00" width="70.10" height="8.00" fill="#3b711c"/>
<rect x="77.9" y="222.00" width="70.10" height="10.00" fill="#3e741e"/>
<rect x="77.9" y="232.00" width="70.10" height="8.00" fill="#41781f"/>
<rect x="77.9" y="240.00" width="70.10" height="8.00" fill="#3d741d"/>
<rect x="77.9" y="248.00" width="70.10" height="5.30" fill="#40771e"/>
<rect x="148.0" y="181.80" width="69.90" height="4.20" fill="#4e8e2a"/>
<rect x="148.0" y="186.00" width="69.90" height="7.00" fill="#4b8a26"/>
<rect x="148.0" y="193.00" width="69.90" height="7.00" fill="#488624"/>
<rect x="148.0" y="200.00" width="69.90" height="10.00" fill="#3a6a1a"/>
<rect x="148.0" y="210.00" width="69.90" height="12.00" fill="#3c6e1c"/>
<rect x="148.0" y="222.00" width="69.90" height="6.00" fill="#40741e"/>
<rect x="148.0" y="228.00" width="69.90" height="13.00" fill="#3a6a1a"/>
<rect x="148.0" y="241.00" width="69.90" height="6.00" fill="#427820"/>
<rect x="148.0" y="247.00" width="69.90" height="6.30" fill="#3c6e1c"/>
<rect x="77.9" y="181.80" width="140.0" height="0.8" fill="#000" opacity="0.05"/>
<rect x="77.9" y="186.60" width="140.0" height="0.8" fill="#000" opacity="0.05"/>
<rect x="77.9" y="191.40" width="140.0" height="0.8" fill="#000" opacity="0.05"/>
<rect x="77.9" y="196.20" width="140.0" height="0.8" fill="#000" opacity="0.05"/>
<rect x="77.9" y="201.00" width="140.0" height="0.8" fill="#000" opacity="0.05"/>
<rect x="77.9" y="205.80" width="140.0" height="0.8" fill="#000" opacity="0.05"/>
<rect x="77.9" y="210.60" width="140.0" height="0.8" fill="#000" opacity="0.05"/>
<rect x="77.9" y="215.40" width="140.0" height="0.8" fill="#000" opacity="0.05"/>
<rect x="77.9" y="220.20" width="140.0" height="0.8" fill="#000" opacity="0.05"/>
<rect x="77.9" y="225.00" width="140.0" height="0.8" fill="#000" opacity="0.05"/>
<rect x="77.9" y="229.80" width="140.0" height="0.8" fill="#000" opacity="0.05"/>
<rect x="77.9" y="234.60" width="140.0" height="0.8" fill="#000" opacity="0.05"/>
<rect x="77.9" y="239.40" width="140.0" height="0.8" fill="#000" opacity="0.05"/>
<rect x="77.9" y="244.20" width="140.0" height="0.8" fill="#000" opacity="0.05"/>
<rect x="77.9" y="249.00" width="140.0" height="0.8" fill="#000" opacity="0.05"/>
</g>
<line x1="26.30" y1="163.00" x2="26.30" y2="178.40" stroke="#666" stroke-width="0.5"/>
<line x1="26.30" y1="163.00" x2="68.50" y2="163.00" stroke="#666" stroke-width="0.5"/>
<line x1="26.30" y1="178.40" x2="44.60" y2="178.40" stroke="#666" stroke-width="0.5"/>
<line x1="44.60" y1="170.10" x2="44.60" y2="183.90" stroke="#666" stroke-width="0.5"/>
<line x1="44.60" y1="170.10" x2="72.30" y2="170.10" stroke="#666" stroke-width="0.5"/>
<line x1="44.60" y1="183.90" x2="56.50" y2="183.90" stroke="#666" stroke-width="0.5"/>
<line x1="56.50" y1="178.40" x2="56.50" y2="193.90" stroke="#666" stroke-width="0.5"/>
<line x1="56.50" y1="178.40" x2="67.40" y2="178.40" stroke="#666" stroke-width="0.5"/>
<line x1="56.50" y1="193.90" x2="66.40" y2="193.90" stroke="#666" stroke-width="0.5"/>
<line x1="67.40" y1="176.20" x2="67.40" y2="181.10" stroke="#666" stroke-width="0.5"/>
<line x1="67.40" y1="176.20" x2="70.00" y2="176.20" stroke="#666" stroke-width="0.5"/>
<line x1="67.40" y1="181.10" x2="69.50" y2="181.10" stroke="#666" stroke-width="0.5"/>
<line x1="66.40" y1="184.20" x2="66.40" y2="205.00" stroke="#666" stroke-width="0.5"/>
<line x1="66.40" y1="184.20" x2="71.20" y2="184.20" stroke="#666" stroke-width="0.5"/>
<line x1="66.40" y1="205.00" x2="68.40" y2="205.00" stroke="#666" stroke-width="0.5"/>
<line x1="68.40" y1="196.00" x2="68.40" y2="240.00" stroke="#666" stroke-width="0.5"/>
<line x1="68.40" y1="196.00" x2="71.00" y2="196.00" stroke="#666" stroke-width="0.5"/>
<line x1="68.40" y1="240.00" x2="70.50" y2="240.00" stroke="#666" stroke-width="0.5"/>
<line x1="70.50" y1="225.00" x2="70.50" y2="252.00" stroke="#666" stroke-width="0.5"/>
<line x1="70.50" y1="225.00" x2="72.50" y2="225.00" stroke="#666" stroke-width="0.5"/>
<line x1="70.50" y1="252.00" x2="73.00" y2="252.00" stroke="#666" stroke-width="0.5"/>
<line x1="71.80" y1="162.60" x2="75.60" y2="162.60" stroke="#888" stroke-width="0.45"/>
<line x1="73.10" y1="163.92" x2="75.60" y2="163.92" stroke="#888" stroke-width="0.45"/>
<line x1="72.64" y1="165.18" x2="75.60" y2="165.18" stroke="#888" stroke-width="0.45"/>
<line x1="70.73" y1="166.67" x2="75.60" y2="166.67" stroke="#888" stroke-width="0.45"/>
<line x1="70.65" y1="168.28" x2="75.60" y2="168.28" stroke="#888" stroke-width="0.45"/>
<line x1="70.78" y1="169.82" x2="75.60" y2="169.82" stroke="#888" stroke-width="0.45"/>
<line x1="72.20" y1="171.10" x2="75.60" y2="171.10" stroke="#888" stroke-width="0.45"/>
<line x1="71.00" y1="172.96" x2="75.60" y2="172.96" stroke="#888" stroke-width="0.45"/>
<line x1="73.01" y1="174.34" x2="75.60" y2="174.34" stroke="#888" stroke-width="0.45"/>
<line x1="72.81" y1="176.29" x2="75.60" y2="176.29" stroke="#888" stroke-width="0.45"/>
<line x1="74.41" y1="177.81" x2="75.60" y2="177.81" stroke="#888" stroke-width="0.45"/>
<line x1="73.93" y1="179.05" x2="75.60" y2="179.05" stroke="#888" stroke-width="0.45"/>
<line x1="71.08" y1="180.48" x2="75.60" y2="180.48" stroke="#888" stroke-width="0.45"/>
<line x1="71.73" y1="181.78" x2="75.60" y2="181.78" stroke="#888" stroke-width="0.45"/>
<line x1="71.22" y1="183.63" x2="75.60" y2="183.63" stroke="#888" stroke-width="0.45"/>
<line x1="73.06" y1="185.29" x2="75.60" y2="185.29" stroke="#888" stroke-width="0.45"/>
<line x1="72.69" y1="186.79" x2="75.60" y2="186.79" stroke="#888" stroke-width="0.45"/>
<line x1="70.74" y1="188.04" x2="75.60" y2="188.04" stroke="#888" stroke-width="0.45"/>
<line x1="73.22" y1="189.41" x2="75.60" y2="189.41" stroke="#888" stroke-width="0.45"/>
<line x1="71.76" y1="190.95" x2="75.60" y2="190.95" stroke="#888" stroke-width="0.45"/>
<line x1="72.31" y1="192.62" x2="75.60" y2="192.62" stroke="#888" stroke-width="0.45"/>
<line x1="73.68" y1="194.06" x2="75.60" y2="194.06" stroke="#888" stroke-width="0.45"/>
<line x1="71.48" y1="195.82" x2="75.60" y2="195.82" stroke="#888" stroke-width="0.45"/>
<line x1="72.60" y1="197.48" x2="75.60" y2="197.48" stroke="#888" stroke-width="0.45"/>
<line x1="73.42" y1="199.38" x2="75.60" y2="199.38" stroke="#888" stroke-width="0.45"/>
<line x1="74.42" y1="200.81" x2="75.60" y2="200.81" stroke="#888" stroke-width="0.45"/>
<line x1="72.17" y1="202.10" x2="75.60" y2="202.10" stroke="#888" stroke-width="0.45"/>
<line x1="71.11" y1="203.91" x2="75.60" y2="203.91" stroke="#888" stroke-width="0.45"/>
<line x1="70.66" y1="205.50" x2="75.60" y2="205.50" stroke="#888" stroke-width="0.45"/>
<line x1="73.56" y1="207.23" x2="75.60" y2="207.23" stroke="#888" stroke-width="0.45"/>
<line x1="74.00" y1="208.89" x2="75.60" y2="208.89" stroke="#888" stroke-width="0.45"/>
<line x1="73.28" y1="210.34" x2="75.60" y2="210.34" stroke="#888" stroke-width="0.45"/>
<line x1="72.82" y1="212.02" x2="75.60" y2="212.02" stroke="#888" stroke-width="0.45"/>
<line x1="73.86" y1="213.58" x2="75.60" y2="213.58" stroke="#888" stroke-width="0.45"/>
<line x1="72.40" y1="215.54" x2="75.60" y2="215.54" stroke="#888" stroke-width="0.45"/>
<line x1="70.74" y1="217.27" x2="75.60" y2="217.27" stroke="#888" stroke-width="0.45"/>
<line x1="73.09" y1="219.03" x2="75.60" y2="219.03" stroke="#888" stroke-width="0.45"/>
<line x1="73.79" y1="221.02" x2="75.60" y2="221.02" stroke="#888" stroke-width="0.45"/>
<line x1="72.04" y1="222.45" x2="75.60" y2="222.45" stroke="#888" stroke-width="0.45"/>
<line x1="70.59" y1="224.19" x2="75.60" y2="224.19" stroke="#888" stroke-width="0.45"/>
<line x1="71.17" y1="225.76" x2="75.60" y2="225.76" stroke="#888" stroke-width="0.45"/>
<line x1="70.74" y1="227.05" x2="75.60" y2="227.05" stroke="#888" stroke-width="0.45"/>
<line x1="71.02" y1="228.86" x2="75.60" y2="228.86" stroke="#888" stroke-width="0.45"/>
<line x1="72.06" y1="230.26" x2="75.60" y2="230.26" stroke="#888" stroke-width="0.45"/>
<line x1="70.82" y1="232.16" x2="75.60" y2="232.16" stroke="#888" stroke-width="0.45"/>
<line x1="72.70" y1="233.72" x2="75.60" y2="233.72" stroke="#888" stroke-width="0.45"/>
<line x1="73.78" y1="235.63" x2="75.60" y2="235.63" stroke="#888" stroke-width="0.45"/>
<line x1="71.61" y1="237.52" x2="75.60" y2="237.52" stroke="#888" stroke-width="0.45"/>
<line x1="71.94" y1="239.05" x2="75.60" y2="239.05" stroke="#888" stroke-width="0.45"/>
<line x1="74.33" y1="240.96" x2="75.60" y2="240.96" stroke="#888" stroke-width="0.45"/>
<line x1="71.20" y1="242.28" x2="75.60" y2="242.28" stroke="#888" stroke-width="0.45"/>
<line x1="71.43" y1="243.66" x2="75.60" y2="243.66" stroke="#888" stroke-width="0.45"/>
<line x1="72.86" y1="245.25" x2="75.60" y2="245.25" stroke="#888" stroke-width="0.45"/>
<line x1="70.52" y1="246.66" x2="75.60" y2="246.66" stroke="#888" stroke-width="0.45"/>
<line x1="71.98" y1="248.20" x2="75.60" y2="248.20" stroke="#888" stroke-width="0.45"/>
<line x1="74.31" y1="249.85" x2="75.60" y2="249.85" stroke="#888" stroke-width="0.45"/>
<line x1="72.56" y1="251.60" x2="75.60" y2="251.60" stroke="#888" stroke-width="0.45"/>
<line x1="73.20" y1="253.30" x2="75.60" y2="253.30" stroke="#888" stroke-width="0.45"/>
<line x1="71.99" y1="211.26" x2="71.99" y2="218.81" stroke="#888" stroke-width="0.45"/>
<line x1="72.06" y1="206.69" x2="72.06" y2="212.21" stroke="#888" stroke-width="0.45"/>
<line x1="70.52" y1="207.05" x2="70.52" y2="212.83" stroke="#888" stroke-width="0.45"/>
<line x1="73.86" y1="170.28" x2="73.86" y2="174.10" stroke="#888" stroke-width="0.45"/>
<line x1="70.00" y1="233.25" x2="70.00" y2="239.41" stroke="#888" stroke-width="0.45"/>
<line x1="69.73" y1="248.43" x2="69.73" y2="253.30" stroke="#888" stroke-width="0.45"/>
<line x1="73.10" y1="216.17" x2="73.10" y2="219.11" stroke="#888" stroke-width="0.45"/>
<line x1="69.58" y1="208.50" x2="69.58" y2="210.85" stroke="#888" stroke-width="0.45"/>
<line x1="70.55" y1="183.29" x2="70.55" y2="185.47" stroke="#888" stroke-width="0.45"/>
<line x1="72.05" y1="200.77" x2="72.05" y2="207.82" stroke="#888" stroke-width="0.45"/>
<line x1="72.36" y1="218.35" x2="72.36" y2="223.34" stroke="#888" stroke-width="0.45"/>
<line x1="73.14" y1="202.25" x2="73.14" y2="205.91" stroke="#888" stroke-width="0.45"/>
<line x1="74.99" y1="249.62" x2="74.99" y2="253.30" stroke="#888" stroke-width="0.45"/>
<line x1="73.39" y1="189.74" x2="73.39" y2="193.12" stroke="#888" stroke-width="0.45"/>
<line x1="68.50" y1="162.30" x2="68.50" y2="165.50" stroke="#666" stroke-width="0.5"/>
<line x1="72.30" y1="167.00" x2="72.30" y2="181.50" stroke="#666" stroke-width="0.5"/>
<text x="40.3" y="218.2" font-size="6.2" text-anchor="middle" fill="#111" stroke="#111" stroke-width="0.2">Color Key</text>
<rect x="18.2" y="222.2" width="44.4" height="18" fill="url(#gr)" stroke="#111" stroke-width="0.8"/>
<rect x="18.1" y="240.2" width="0.6" height="2.2" fill="#111"/>
<text x="18.4" y="249.8" font-size="5.4" text-anchor="middle" fill="#111" stroke="#111" stroke-width="0.2">-20</text>
<rect x="29.1" y="240.2" width="0.6" height="2.2" fill="#111"/>
<text x="29.4" y="249.8" font-size="5.4" text-anchor="middle" fill="#111" stroke="#111" stroke-width="0.2">-10</text>
<rect x="40.2" y="240.2" width="0.6" height="2.2" fill="#111"/>
<text x="40.5" y="249.8" font-size="5.4" text-anchor="middle" fill="#111" stroke="#111" stroke-width="0.2">0</text>
<rect x="51.3" y="240.2" width="0.6" height="2.2" fill="#111"/>
<text x="51.6" y="249.8" font-size="5.4" text-anchor="middle" fill="#111" stroke="#111" stroke-width="0.2">10</text>
<rect x="62.3" y="240.2" width="0.6" height="2.2" fill="#111"/>
<text x="62.6" y="249.8" font-size="5.4" text-anchor="middle" fill="#111" stroke="#111" stroke-width="0.2">20</text>
<text x="40" y="259.7" font-size="7.9" text-anchor="middle" fill="#111" textLength="12.3" lengthAdjust="spacingAndGlyphs" stroke="#111" stroke-width="0.2">Value</text>
<text x="88" y="265.2" font-size="6.3" font-style="italic" fill="#202020" stroke="#202020" stroke-width="0.08">Pten<tspan font-size="3.8" dy="-2.4">Δ/Δ</tspan><tspan dy="2.4">Nf1</tspan><tspan font-size="3.8" dy="-2.4">LOH</tspan><tspan dy="2.4">/WT</tspan></text>
<text x="152.8" y="265.2" font-size="6.2" fill="#151515" stroke="#151515" stroke-width="0.1">Fetal Liver/Adult BM</text>
<rect x="0.5" y="0.5" width="519" height="272" fill="none" stroke="#000" stroke-width="1"/>
</svg></body></html>
